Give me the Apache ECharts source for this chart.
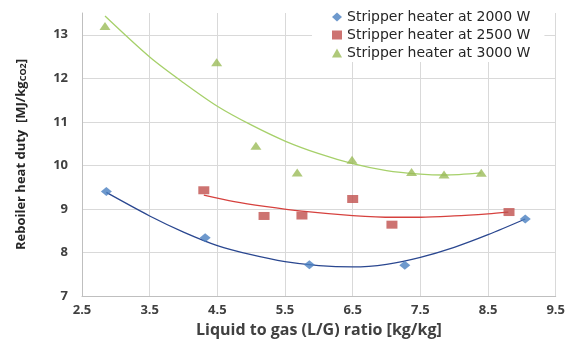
<!DOCTYPE html>
<html>
<head>
<meta charset="utf-8">
<script src="https://cdn.jsdelivr.net/npm/echarts@6/dist/echarts.min.js"></script>
<style>
  html, body { margin: 0; padding: 0; background: #fff; }
  #chart { width: 568px; height: 343px; }
</style>
</head>
<body>
<div id="chart"></div>
<script>
// 测量点 (L/G ratio, reboiler heat duty)
const pts2000 = [[2.86, 9.4], [4.32, 8.34], [5.86, 7.72], [7.27, 7.71], [9.05, 8.77]];
const pts2500 = [[4.3, 9.43], [5.19, 8.84], [5.75, 8.85], [6.5, 9.23], [7.08, 8.64], [8.81, 8.93]];
const pts3000 = [[2.84, 13.2], [4.49, 12.37], [5.07, 10.45], [5.68, 9.84], [6.49, 10.13], [7.37, 9.85], [7.85, 9.79], [8.4, 9.83]];

// 趋势线
const trend2000 = [[2.86, 9.38], [3.5, 8.84], [4.0, 8.47], [4.5, 8.16], [5.0, 7.95], [5.5, 7.79], [6.0, 7.7], [6.5, 7.67], [7.0, 7.73], [7.5, 7.89], [8.0, 8.12], [8.5, 8.41], [9.05, 8.77]];
const trend2500 = [[4.3, 9.32], [4.75, 9.17], [5.2, 9.06], [5.75, 8.95], [6.5, 8.85], [7.1, 8.81], [7.5, 8.81], [8.0, 8.84], [8.5, 8.89], [8.8, 8.93]];
const trend3000 = [[2.84, 13.43], [3.5, 12.49], [4.0, 11.9], [4.5, 11.36], [5.0, 10.93], [5.5, 10.56], [6.0, 10.27], [6.5, 10.04], [7.0, 9.88], [7.5, 9.8], [7.85, 9.78], [8.4, 9.83]];

const legendNames = ["Stripper heater at 2000 W", "Stripper heater at 2500 W", "Stripper heater at 3000 W"];

const chart = echarts.init(document.getElementById("chart"));
const labelFont = "'Open Sans', sans-serif";

const option = {
  animation: false,
  grid: { left: 82, right: 12, top: 13, bottom: 44 },
  legend: {
    data: legendNames,
    orient: "vertical",
    left: 312,
    top: 0,
    padding: [10, 14, 2, 20],
    itemGap: 4,
    itemWidth: 10,
    itemHeight: 9,
    backgroundColor: "#fff",
    textStyle: { fontFamily: "'DejaVu Sans', sans-serif", fontSize: 14, color: "#262626", lineHeight: 14 }
  },
  xAxis: {
    type: "value",
    min: 2.5,
    max: 9.5,
    interval: 1,
    name: "Liquid to gas (L/G) ratio [kg/kg]",
    nameLocation: "middle",
    nameGap: 24,
    nameTextStyle: { fontFamily: labelFont, fontSize: 16, fontWeight: "bold", color: "#404040" },
    axisLine: { show: true, lineStyle: { color: "#bfbfbf" } },
    axisTick: { show: false },
    axisLabel: { margin: 8, fontFamily: labelFont, fontSize: 13, fontWeight: "bold", color: "#404040",
      formatter: v => v.toFixed(1) },
    splitLine: { show: true, lineStyle: { color: "#d9d9d9" } }
  },
  yAxis: {
    type: "value",
    min: 7,
    max: 13.5,
    interval: 1,
    name: "{a|Reboiler heat duty  [MJ/kg}{s|CO2}{a|]}",
    nameLocation: "middle",
    nameGap: 54,
    nameTextStyle: {
      rich: {
        a: { fontFamily: "'Liberation Sans Narrow', 'Open Sans', sans-serif", fontSize: 13, fontWeight: "bold", color: "#262626" },
        s: { fontFamily: "'Liberation Sans Narrow', 'Open Sans', sans-serif", fontSize: 9, fontWeight: "bold", color: "#262626", padding: [5, 0, 0, 0] }
      }
    },
    axisLine: { show: true, lineStyle: { color: "#bfbfbf" } },
    axisTick: { show: false },
    axisLabel: { margin: 14, showMaxLabel: false, fontFamily: labelFont, fontSize: 13, fontWeight: "bold", color: "#404040" },
    splitLine: { show: true, showMaxLine: false, lineStyle: { color: "#d9d9d9" } }
  },
  series: [
    { name: "trend2000", type: "line", data: trend2000, smooth: 0.3, symbol: "none",
      lineStyle: { color: "#2a4790", width: 1.3 }, z: 2 },
    { name: "trend2500", type: "line", data: trend2500, smooth: 0.3, symbol: "none",
      lineStyle: { color: "#d6413e", width: 1.3 }, z: 2 },
    { name: "trend3000", type: "line", data: trend3000, smooth: 0.3, symbol: "none",
      lineStyle: { color: "#a6d06a", width: 1.3 }, z: 2 },
    { name: legendNames[0], type: "scatter", data: pts2000, symbol: "diamond", symbolSize: [11, 9],
      itemStyle: { color: "#4a7fc1" }, z: 3 },
    { name: legendNames[1], type: "scatter", data: pts2500, symbol: "rect", symbolSize: [11, 8],
      itemStyle: { color: "#c0504d" }, z: 3 },
    { name: legendNames[2], type: "scatter", data: pts3000, symbol: "triangle", symbolSize: [11, 8],
      itemStyle: { color: "#9bbb59" }, z: 3 }
  ]
};

chart.setOption(option);
</script>
</body>
</html>
